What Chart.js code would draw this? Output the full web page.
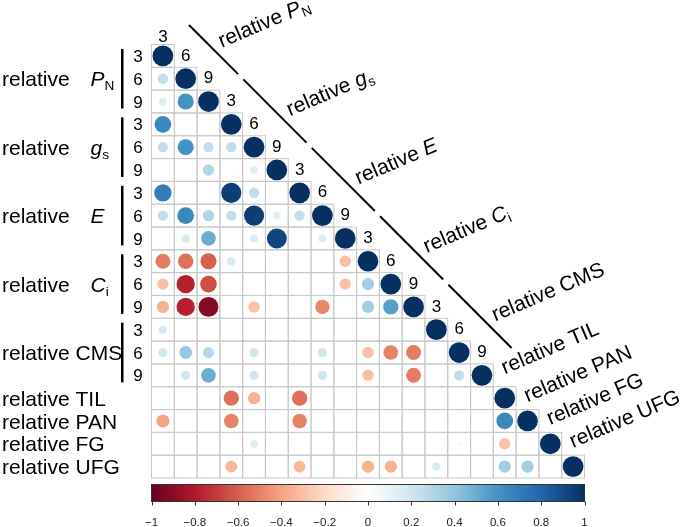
<!DOCTYPE html>
<html>
<head>
<meta charset="utf-8">
<script src="https://cdn.jsdelivr.net/npm/chart.js@4"></script>
<style>
html, body { margin: 0; padding: 0; background: #fff; }
canvas { display: block; }
</style>
</head>
<body>
<canvas id="corr" width="685" height="527"></canvas>
<script>
// lower triangle of the correlation matrix, one array per row (null = not shown)
var rowPN3 = [1];
var rowPN6 = [0.25, 1];
var rowPN9 = [0.14, 0.6, 1];
var rowGs3 = [0.65, null, null, 1];
var rowGs6 = [0.25, 0.6, 0.25, 0.25, 1];
var rowGs9 = [null, null, 0.3, null, 0.14, 1];
var rowE3 = [0.7, null, null, 0.95, 0.25, null, 1];
var rowE6 = [0.25, 0.65, 0.3, 0.25, 0.95, 0.14, 0.25, 1];
var rowE9 = [null, 0.17, 0.5, null, 0.15, 0.92, null, 0.15, 1];
var rowCi3 = [-0.52, -0.55, -0.6, 0.17, null, null, null, null, -0.3, 1];
var rowCi6 = [-0.3, -0.78, -0.65, null, null, null, null, null, -0.3, 0.35, 1];
var rowCi9 = [-0.35, -0.78, -0.92, null, -0.3, null, null, -0.48, null, 0.35, 0.55, 1];
var rowCMS3 = [0.17, null, null, null, null, null, null, null, null, null, null, null, 1];
var rowCMS6 = [0.2, 0.38, 0.28, null, 0.2, null, null, 0.2, null, -0.3, -0.5, -0.52, null, 1];
var rowCMS9 = [null, 0.2, 0.5, null, 0.2, null, null, 0.2, null, -0.3, null, -0.52, null, 0.25, 1];
var rowTIL = [null, null, null, -0.55, -0.35, null, -0.55, null, null, null, null, null, null, null, null, 1];
var rowPAN = [-0.4, null, null, -0.5, null, null, -0.5, null, null, null, null, null, null, null, null, 0.65, 1];
var rowFG = [null, null, null, null, 0.14, null, null, null, null, null, null, null, null, 0.04, null, -0.3, null, 1];
var rowUFG = [null, null, null, -0.33, null, null, -0.33, null, null, -0.35, -0.35, null, 0.17, null, null, 0.35, 0.35, null, 1];

var rows = [rowPN3, rowPN6, rowPN9, rowGs3, rowGs6, rowGs9, rowE3, rowE6, rowE9,
            rowCi3, rowCi6, rowCi9, rowCMS3, rowCMS6, rowCMS9, rowTIL, rowPAN, rowFG, rowUFG];

// labels
var timeTicks = ['3', '6', '9'];
var groupLabels = [
    [['relative ', ''], ['P', 'i'], ['N', 's']],
    [['relative ', ''], ['g', 'i'], ['s', 's']],
    [['relative ', ''], ['E', 'i']],
    [['relative ', ''], ['C', 'i'], ['i', 's']],
    [['relative ', ''], ['CMS', '']]
];
var singleLabels = ['relative TIL', 'relative PAN', 'relative FG', 'relative UFG'];
var colorbarTicks = [-1, -0.8, -0.6, -0.4, -0.2, 0, 0.2, 0.4, 0.6, 0.8, 1];

// RdBu palette used by corrplot
var rdbu = ['#67001F', '#B2182B', '#D6604D', '#F4A582', '#FDDBC7', '#FFFFFF',
            '#D1E5F0', '#92C5DE', '#4393C3', '#2166AC', '#053061'];

var FONT = '"Liberation Sans", Arial, Helvetica, sans-serif';
var n = rows.length;

function hexRgb(h) {
    return [parseInt(h.substr(1, 2), 16), parseInt(h.substr(3, 2), 16), parseInt(h.substr(5, 2), 16)];
}

function colorFor(v) {
    var t = (v + 1) / 2 * 10;
    var k = Math.min(Math.floor(t), 9);
    var f = t - k;
    var a = hexRgb(rdbu[k]), b = hexRgb(rdbu[k + 1]);
    var c = a.map(function (x, i) { return Math.round(x + (b[i] - x) * f); });
    return 'rgb(' + c.join(',') + ')';
}

function circleRadius(ctx) {
    if (!ctx.raw) return 0;
    var xs = ctx.chart.scales.x;
    var cell = xs.getPixelForValue(1) - xs.getPixelForValue(0);
    return Math.sqrt(Math.abs(ctx.raw.v)) * 0.455 * cell;
}

var points = [];
rows.forEach(function (r, i) {
    r.forEach(function (v, j) {
        if (v !== null) points.push({ x: j, y: i, v: v });
    });
});

// draws "relative" + italic symbol + subscript; gap = extra room before the symbol
function drawParts(c, parts, x, y, size, gap) {
    var cx = x;
    parts.forEach(function (p) {
        var sub = p[1] === 's';
        if (p[1] === 'i') cx += gap;
        c.font = (p[1] === 'i' ? 'italic ' : '') + (sub ? size * 0.65 : size) + 'px ' + FONT;
        c.fillText(p[0], cx, sub ? y + size * 0.2 : y);
        cx += c.measureText(p[0]).width;
    });
}

var corrDecor = {
    id: 'corrDecor',
    beforeDatasetsDraw: function (chart) {
        var c = chart.ctx, xs = chart.scales.x, ys = chart.scales.y;
        c.save();
        c.strokeStyle = '#c8c8c8';
        c.lineWidth = 1;
        for (var i = 0; i < n; i++) {
            for (var j = 0; j <= i; j++) {
                var x0 = xs.getPixelForValue(j - 0.5), x1 = xs.getPixelForValue(j + 0.5);
                var y0 = ys.getPixelForValue(i - 0.5), y1 = ys.getPixelForValue(i + 0.5);
                c.strokeRect(x0, y0, x1 - x0, y1 - y0);
            }
        }
        c.restore();
    },
    afterDraw: function (chart) {
        var c = chart.ctx, xs = chart.scales.x, ys = chart.scales.y, cb = chart.scales.cb;
        var LS = 21, RS = 21, DS = 17;
        c.save();
        c.fillStyle = '#000';
        c.textBaseline = 'alphabetic';

        // left side: group names, time ticks and bars
        groupLabels.forEach(function (parts, g) {
            c.textAlign = 'left';
            drawParts(c, parts, 2, ys.getPixelForValue(3 * g + 1) + LS * 0.36, LS, 15);
            c.font = DS + 'px ' + FONT;
            c.textAlign = 'center';
            timeTicks.forEach(function (t, k) {
                c.fillText(t, 138, ys.getPixelForValue(3 * g + k) + DS * 0.36);
            });
            c.fillRect(121, ys.getPixelForValue(3 * g) - 7, 2.5, ys.getPixelForValue(3 * g + 2) - ys.getPixelForValue(3 * g) + 14);
        });
        c.textAlign = 'left';
        singleLabels.forEach(function (s, k) {
            c.font = LS + 'px ' + FONT;
            c.fillText(s, 2, ys.getPixelForValue(15 + k) + LS * 0.36);
        });

        // diagonal time ticks
        c.font = DS + 'px ' + FONT;
        c.textAlign = 'center';
        c.textBaseline = 'middle';
        for (var j = 0; j < 15; j++) {
            var ty = Math.max(ys.getPixelForValue(j - 1), chart.chartArea.top - 7);
            c.fillText(timeTicks[j % 3], xs.getPixelForValue(j), ty);
        }

        // separator lines parallel to the diagonal
        c.strokeStyle = '#000';
        c.lineWidth = 2;
        for (var g = 0; g < 5; g++) {
            var s0 = 3 * g - 0.72, s1 = 3 * g + 2.05;
            var ax = xs.getPixelForValue(s0 + 1.25), ay = ys.getPixelForValue(s0 - 1.25);
            var bx = xs.getPixelForValue(s1 + 1.25), by = ys.getPixelForValue(s1 - 1.25);
            if (ay < 25) { ax += 25 - ay; ay = 25; }
            c.beginPath();
            c.moveTo(ax, ay);
            c.lineTo(bx, by);
            c.stroke();
        }

        // rotated column names
        var ang = -23 * Math.PI / 180;
        c.textAlign = 'left';
        c.textBaseline = 'alphabetic';
        groupLabels.forEach(function (parts, g) {
            c.save();
            c.translate(xs.getPixelForValue(3 * g + 2.58), ys.getPixelForValue(3 * g - 0.36));
            c.rotate(ang);
            drawParts(c, parts, 0, 0, RS, 0);
            c.restore();
        });
        singleLabels.forEach(function (s, k) {
            var j = 15 + k;
            c.save();
            c.translate(xs.getPixelForValue(j), ys.getPixelForValue(j - 1 + (k === 0 ? -0.05 : 0.18)));
            c.rotate(ang);
            c.font = RS + 'px ' + FONT;
            c.fillText(s, 0, 0);
            c.restore();
        });

        // colour bar
        var top = cb.top + 6.5, bot = cb.top + 23.5;
        var grad = c.createLinearGradient(cb.left, 0, cb.right, 0);
        rdbu.forEach(function (col, k) { grad.addColorStop(k / 10, col); });
        c.fillStyle = grad;
        c.fillRect(cb.left, top, cb.right - cb.left, bot - top);
        c.strokeStyle = '#333';
        c.lineWidth = 1;
        c.strokeRect(cb.left, top, cb.right - cb.left, bot - top);
        c.beginPath();
        colorbarTicks.forEach(function (t) {
            var px = Math.round(cb.getPixelForValue(t)) + 0.5;
            c.moveTo(px, bot);
            c.lineTo(px, bot + 4);
        });
        c.stroke();
        c.restore();
    }
};

new Chart(document.getElementById('corr'), {
    type: 'scatter',
    data: {
        datasets: [{
            data: points,
            backgroundColor: function (ctx) { return ctx.raw ? colorFor(ctx.raw.v) : '#fff'; },
            borderWidth: 0,
            pointRadius: circleRadius,
            pointHoverRadius: circleRadius
        }]
    },
    options: {
        responsive: false,
        animation: false,
        devicePixelRatio: 1,
        events: [],
        layout: { padding: { left: 151.5, right: 100.5, top: 44.5, bottom: 0 } },
        plugins: { legend: { display: false }, tooltip: { enabled: false } },
        scales: {
            x: { type: 'linear', min: -0.5, max: n - 0.5, display: false },
            y: { type: 'linear', min: -0.5, max: n - 0.5, reverse: true, display: false },
            cb: {
                type: 'linear',
                axis: 'x',
                position: 'bottom',
                min: -1,
                max: 1,
                afterFit: function (scale) { scale.height = 49; },
                afterBuildTicks: function (scale) {
                    scale.ticks = colorbarTicks.map(function (v) { return { value: v }; });
                },
                grid: { display: false, drawTicks: false },
                border: { display: false },
                ticks: {
                    autoSkip: false,
                    maxRotation: 0,
                    padding: 38,
                    color: '#222',
                    font: { family: FONT, size: 11.5 },
                    callback: function (v) {
                        return v === 0 ? '0' : (v < 0 ? '\u2212' : '') + String(Math.abs(v));
                    }
                }
            }
        }
    },
    plugins: [corrDecor]
});
</script>
</body>
</html>
